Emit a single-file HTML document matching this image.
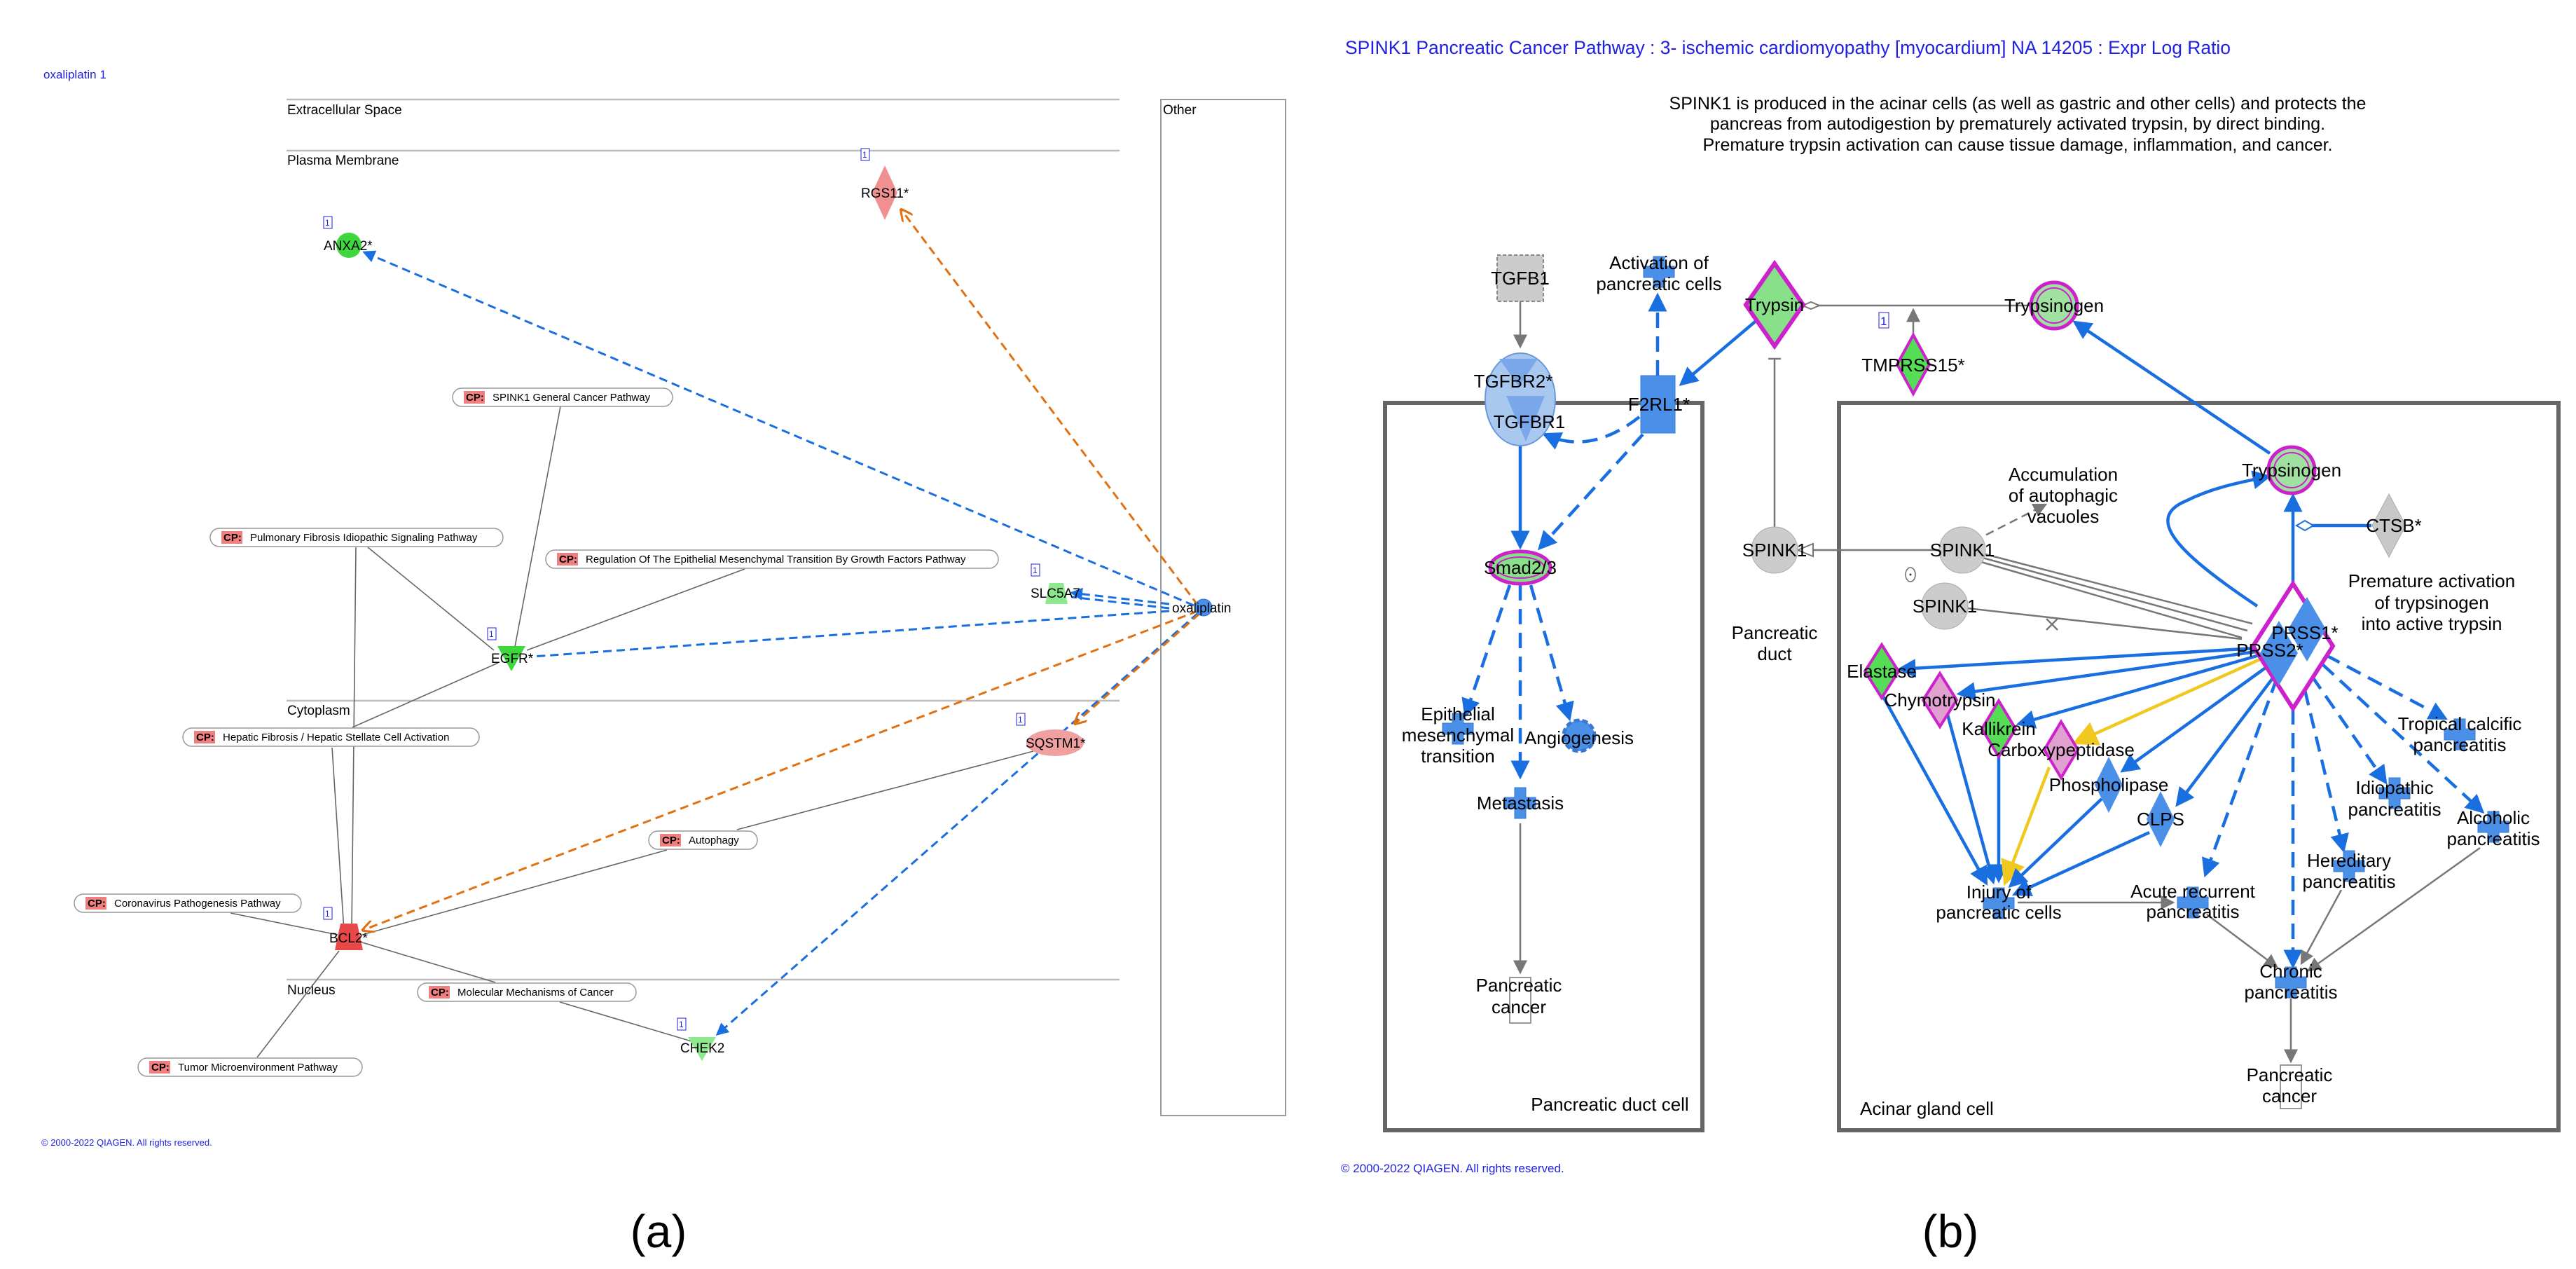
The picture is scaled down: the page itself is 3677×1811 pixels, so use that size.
<!DOCTYPE html>
<html><head><meta charset="utf-8"><style>
html,body{margin:0;padding:0;background:#fff;width:3677px;height:1811px;overflow:hidden}
svg{display:block}
text{font-family:"Liberation Sans",Arial,sans-serif}
.l{font-size:26px;fill:#000}
.s{font-size:15px;fill:#000}
.g{stroke:#777;stroke-width:2.5;fill:none}
.gs{stroke:#666;stroke-width:1.6;fill:none}
.b{stroke:#1a6fe0;stroke-width:4.5;fill:none}
.bd{stroke:#1a6fe0;stroke-width:4.5;fill:none;stroke-dasharray:22 12}
.bd2{stroke:#1a6fe0;stroke-width:3;fill:none;stroke-dasharray:12 7}
.od{stroke:#e07010;stroke-width:3;fill:none;stroke-dasharray:12 7}
.y{stroke:#f0c820;stroke-width:4.5;fill:none}
</style></head><body>
<svg width="3677" height="1811" viewBox="0 0 3677 1811" xmlns="http://www.w3.org/2000/svg">
<defs>
<marker id="ab" markerWidth="8" markerHeight="8" refX="7" refY="4" orient="auto" markerUnits="strokeWidth"><path d="M0,0 L8,4 L0,8 z" fill="#1a6fe0"/></marker>
<marker id="ab2" markerWidth="6" markerHeight="6" refX="5" refY="3" orient="auto" markerUnits="strokeWidth"><path d="M0,0 L6,3 L0,6 z" fill="#1a6fe0"/></marker>
<marker id="ay" markerWidth="8" markerHeight="8" refX="7" refY="4" orient="auto" markerUnits="strokeWidth"><path d="M0,0 L8,4 L0,8 z" fill="#f0c820"/></marker>
<marker id="ag" markerWidth="8" markerHeight="8" refX="7" refY="4" orient="auto" markerUnits="strokeWidth"><path d="M0,0 L8,4 L0,8 z" fill="#777"/></marker>
<marker id="ao" markerWidth="6" markerHeight="6" refX="5" refY="3" orient="auto" markerUnits="strokeWidth"><path d="M0,0 L6,3 L0,6" fill="none" stroke="#e07010"/></marker>
<g id="cross"><path d="M-8,-22 H8 V-8 H22 V8 H8 V22 H-8 V8 H-22 V-8 H-8 Z" fill="#4a8fe8" stroke="#3a78d0" stroke-width="1"/></g>
</defs>

<!-- ===== PANEL A ===== -->
<text x="62" y="112" font-size="17" fill="#2020e0">oxaliplatin 1</text>
<g stroke="#bbb" stroke-width="2.5">
<line x1="409" y1="142" x2="1598" y2="142"/>
<line x1="409" y1="215" x2="1598" y2="215"/>
<line x1="409" y1="1000" x2="1598" y2="1000"/>
<line x1="409" y1="1398" x2="1598" y2="1398"/>
</g>
<rect x="1657" y="142" width="178" height="1450" fill="none" stroke="#999" stroke-width="2"/>
<text x="1660" y="163" font-size="19">Other</text>
<text x="410" y="163" font-size="19">Extracellular Space</text>
<text x="410" y="235" font-size="19">Plasma Membrane</text>
<text x="410" y="1020" font-size="19">Cytoplasm</text>
<text x="410" y="1419" font-size="19">Nucleus</text>
<text x="59" y="1635" font-size="13" fill="#2020e0">© 2000-2022 QIAGEN. All rights reserved.</text>

<g class="gs">
<line x1="800" y1="580" x2="734" y2="928"/>
<line x1="525" y1="781" x2="705" y2="928"/>
<line x1="508" y1="781" x2="502" y2="1328"/>
<line x1="1063" y1="812" x2="752" y2="928"/>
<line x1="503" y1="1038" x2="711" y2="946"/>
<line x1="474" y1="1067" x2="491" y2="1328"/>
<line x1="1052" y1="1184" x2="1475" y2="1072"/>
<line x1="952" y1="1213" x2="517" y2="1334"/>
<line x1="329" y1="1303" x2="482" y2="1334"/>
<line x1="707" y1="1402" x2="517" y2="1345"/>
<line x1="799" y1="1430" x2="987" y2="1486"/>
<line x1="367" y1="1509" x2="484" y2="1357"/>
</g>
<line x1="1704" y1="864" x2="520" y2="360" class="bd2" marker-end="url(#ab2)"/>
<line x1="1669" y1="862" x2="1530" y2="846" class="bd2" marker-end="url(#ab2)"/>
<line x1="1669" y1="868" x2="1530" y2="852" class="bd2"/>
<line x1="1669" y1="872" x2="760" y2="937" class="bd2"/>
<line x1="1710" y1="875" x2="1024" y2="1476" class="bd2" marker-end="url(#ab2)"/>
<line x1="1710" y1="864" x2="1287" y2="300" class="od" marker-end="url(#ao)"/>
<line x1="1710" y1="872" x2="519" y2="1327" class="od" marker-end="url(#ao)"/>
<line x1="1712" y1="876" x2="1535" y2="1032" class="od" marker-end="url(#ao)"/>

<g font-size="15">
<g><rect x="646" y="554" width="314" height="26" rx="13" fill="#fff" stroke="#999" stroke-width="1.5"/><rect x="662" y="558" width="30" height="18" fill="#f08080"/><text x="665" y="572" font-weight="bold">CP:</text><text x="703" y="572">SPINK1 General Cancer Pathway</text></g>
<g><rect x="300" y="754" width="418" height="26" rx="13" fill="#fff" stroke="#999" stroke-width="1.5"/><rect x="316" y="758" width="30" height="18" fill="#f08080"/><text x="319" y="772" font-weight="bold">CP:</text><text x="357" y="772">Pulmonary Fibrosis Idiopathic Signaling Pathway</text></g>
<g><rect x="779" y="785" width="646" height="26" rx="13" fill="#fff" stroke="#999" stroke-width="1.5"/><rect x="795" y="789" width="30" height="18" fill="#f08080"/><text x="798" y="803" font-weight="bold">CP:</text><text x="836" y="803">Regulation Of The Epithelial Mesenchymal Transition By Growth Factors Pathway</text></g>
<g><rect x="261" y="1039" width="423" height="26" rx="13" fill="#fff" stroke="#999" stroke-width="1.5"/><rect x="277" y="1043" width="30" height="18" fill="#f08080"/><text x="280" y="1057" font-weight="bold">CP:</text><text x="318" y="1057">Hepatic Fibrosis / Hepatic Stellate Cell Activation</text></g>
<g><rect x="926" y="1186" width="155" height="26" rx="13" fill="#fff" stroke="#999" stroke-width="1.5"/><rect x="942" y="1190" width="30" height="18" fill="#f08080"/><text x="945" y="1204" font-weight="bold">CP:</text><text x="983" y="1204">Autophagy</text></g>
<g><rect x="106" y="1276" width="324" height="26" rx="13" fill="#fff" stroke="#999" stroke-width="1.5"/><rect x="122" y="1280" width="30" height="18" fill="#f08080"/><text x="125" y="1294" font-weight="bold">CP:</text><text x="163" y="1294">Coronavirus Pathogenesis Pathway</text></g>
<g><rect x="596" y="1403" width="312" height="26" rx="13" fill="#fff" stroke="#999" stroke-width="1.5"/><rect x="612" y="1407" width="30" height="18" fill="#f08080"/><text x="615" y="1421" font-weight="bold">CP:</text><text x="653" y="1421">Molecular Mechanisms of Cancer</text></g>
<g><rect x="197" y="1510" width="320" height="26" rx="13" fill="#fff" stroke="#999" stroke-width="1.5"/><rect x="213" y="1514" width="30" height="18" fill="#f08080"/><text x="216" y="1528" font-weight="bold">CP:</text><text x="254" y="1528">Tumor Microenvironment Pathway</text></g>
</g>

<g font-size="12" fill="#2020e0">
<rect x="462" y="309" width="12" height="17" fill="#fff" stroke="#2020e0"/><text x="464" y="322">1</text>
<rect x="1229" y="212" width="12" height="17" fill="#fff" stroke="#2020e0"/><text x="1231" y="225">1</text>
<rect x="1472" y="805" width="12" height="17" fill="#fff" stroke="#2020e0"/><text x="1474" y="818">1</text>
<rect x="696" y="896" width="12" height="17" fill="#fff" stroke="#2020e0"/><text x="698" y="909">1</text>
<rect x="1451" y="1018" width="12" height="17" fill="#fff" stroke="#2020e0"/><text x="1453" y="1031">1</text>
<rect x="462" y="1295" width="12" height="17" fill="#fff" stroke="#2020e0"/><text x="464" y="1308">1</text>
<rect x="967" y="1453" width="12" height="17" fill="#fff" stroke="#2020e0"/><text x="969" y="1466">1</text>
</g>
<circle cx="498" cy="350" r="18" fill="#3ed83e"/>
<polygon points="1263,236 1281,275 1263,314 1245,275" fill="#f09090"/>
<polygon points="1498,832 1518,832 1524,862 1492,862" fill="#8ee88e"/>
<circle cx="1718" cy="867" r="12" fill="#4a8fe8" stroke="#2a6fd0"/>
<polygon points="710,922 750,922 730,958" fill="#3ed83e"/>
<ellipse cx="1506" cy="1060" rx="41" ry="19" fill="#f0a0a0"/>
<polygon points="486,1318 510,1318 518,1356 478,1356" fill="#e84848"/>
<polygon points="982,1480 1022,1480 1002,1514" fill="#8ee88e"/>
<g font-size="19">
<text x="462" y="357">ANXA2*</text>
<text x="1229" y="282">RGS11*</text>
<text x="1471" y="853">SLC5A7</text>
<text x="1673" y="874">oxaliplatin</text>
<text x="701" y="946">EGFR*</text>
<text x="1464" y="1067">SQSTM1*</text>
<text x="470" y="1345">BCL2*</text>
<text x="971" y="1502">CHEK2</text>
</g>
<text x="940" y="1780" font-family="Liberation Serif" font-size="66" text-anchor="middle">(a)</text>

<!-- ===== PANEL B ===== -->
<text x="1920" y="77" font-size="26.5" fill="#2020e0" textLength="1264" lengthAdjust="spacingAndGlyphs">SPINK1 Pancreatic Cancer Pathway : 3- ischemic cardiomyopathy [myocardium] NA 14205 : Expr Log Ratio</text>
<g font-size="25" text-anchor="middle">
<text x="2880" y="156">SPINK1 is produced in the acinar cells (as well as gastric and other cells) and protects the</text>
<text x="2880" y="185">pancreas from autodigestion by prematurely activated trypsin, by direct binding.</text>
<text x="2880" y="215">Premature trypsin activation can cause tissue damage, inflammation, and cancer.</text>
</g>
<rect x="1977" y="575" width="453" height="1038" fill="none" stroke="#666" stroke-width="6"/>
<rect x="2625" y="575" width="1027" height="1038" fill="none" stroke="#666" stroke-width="6"/>
<text x="2298" y="1585" class="l" text-anchor="middle">Pancreatic duct cell</text>
<text x="2655" y="1591" class="l">Acinar gland cell</text>
<text x="1914" y="1673" font-size="17" fill="#2020e0">© 2000-2022 QIAGEN. All rights reserved.</text>
<text x="2784" y="1780" font-family="Liberation Serif" font-size="66" text-anchor="middle">(b)</text>

<line x1="2170" y1="430" x2="2170" y2="495" class="g" marker-end="url(#ag)"/>
<line x1="2366" y1="536" x2="2366" y2="422" class="bd" marker-end="url(#ab2)"/>
<line x1="2510" y1="455" x2="2400" y2="548" class="b" marker-end="url(#ab2)"/>
<path d="M2340,595 Q2270,650 2205,620" class="bd" marker-end="url(#ab2)"/>
<line x1="2345" y1="620" x2="2198" y2="782" class="bd" marker-end="url(#ab2)"/>
<line x1="2170" y1="636" x2="2170" y2="780" class="b" marker-end="url(#ab2)"/>
<line x1="2155" y1="835" x2="2092" y2="1020" class="bd" marker-end="url(#ab2)"/>
<line x1="2170" y1="835" x2="2170" y2="1108" class="bd" marker-end="url(#ab2)"/>
<line x1="2185" y1="835" x2="2240" y2="1025" class="bd" marker-end="url(#ab2)"/>
<line x1="2170" y1="1175" x2="2170" y2="1388" class="g" marker-end="url(#ag)"/>
<line x1="2575" y1="436" x2="2897" y2="436" class="g"/>
<polygon points="2573,436 2585,431 2597,436 2585,441" fill="#fff" stroke="#777" stroke-width="2"/>
<line x1="2731" y1="478" x2="2731" y2="442" class="g" marker-end="url(#ag)"/>
<line x1="2533" y1="512" x2="2533" y2="752" class="g"/>
<line x1="2524" y1="512" x2="2542" y2="512" class="g"/>
<line x1="2768" y1="785" x2="2568" y2="785" class="g"/>
<polygon points="2566,785 2588,776 2588,794" fill="#fff" stroke="#777" stroke-width="2"/>
<line x1="2818" y1="772" x2="2920" y2="720" class="g" stroke-dasharray="12 7" marker-end="url(#ag)"/>
<g class="g">
<line x1="2830" y1="790" x2="3215" y2="890"/>
<line x1="2830" y1="796" x2="3208" y2="900"/>
<line x1="2828" y1="802" x2="3200" y2="910"/>
<line x1="2808" y1="868" x2="3200" y2="912"/>
<line x1="2921" y1="883" x2="2937" y2="899"/><line x1="2937" y1="883" x2="2921" y2="899"/>
</g>
<ellipse cx="2727" cy="820" rx="7" ry="10" fill="#fff" stroke="#666" stroke-width="1.5"/>
<circle cx="2727" cy="820" r="1.5" fill="#333"/>
<line x1="3240" y1="647" x2="2962" y2="460" class="b" marker-end="url(#ab2)"/>
<line x1="3273" y1="835" x2="3273" y2="708" class="b" marker-end="url(#ab2)"/>
<path d="M3222,865 C3110,790 3060,740 3120,715 C3160,695 3200,688 3238,680" class="b" marker-end="url(#ab2)"/>
<line x1="3385" y1="750" x2="3300" y2="750" class="b"/>
<polygon points="3278,750 3290,743 3302,750 3290,757" fill="#fff" stroke="#1a6fe0" stroke-width="2"/>
<line x1="3220" y1="925" x2="2712" y2="955" class="b" marker-end="url(#ab2)"/>
<line x1="3220" y1="930" x2="2797" y2="990" class="b" marker-end="url(#ab2)"/>
<line x1="3225" y1="935" x2="2882" y2="1033" class="b" marker-end="url(#ab2)"/>
<line x1="3228" y1="940" x2="2962" y2="1060" class="y" marker-end="url(#ay)"/>
<line x1="3238" y1="950" x2="3030" y2="1100" class="b" marker-end="url(#ab2)"/>
<line x1="3250" y1="960" x2="3108" y2="1148" class="b" marker-end="url(#ab2)"/>
<line x1="3250" y1="968" x2="3148" y2="1248" class="bd" marker-end="url(#ab2)"/>
<line x1="3273" y1="1012" x2="3273" y2="1378" class="bd" marker-end="url(#ab2)"/>
<line x1="3290" y1="985" x2="3345" y2="1213" class="bd" marker-end="url(#ab2)"/>
<line x1="3300" y1="965" x2="3405" y2="1116" class="bd" marker-end="url(#ab2)"/>
<line x1="3315" y1="948" x2="3543" y2="1158" class="bd" marker-end="url(#ab2)"/>
<line x1="3320" y1="935" x2="3490" y2="1025" class="bd" marker-end="url(#ab2)"/>
<line x1="2683" y1="985" x2="2835" y2="1260" class="b" marker-end="url(#ab2)"/>
<line x1="2780" y1="1020" x2="2845" y2="1258" class="b" marker-end="url(#ab2)"/>
<line x1="2853" y1="1062" x2="2853" y2="1256" class="b" marker-end="url(#ab2)"/>
<line x1="2925" y1="1095" x2="2862" y2="1260" class="y" marker-end="url(#ay)"/>
<line x1="3000" y1="1140" x2="2870" y2="1264" class="b" marker-end="url(#ab2)"/>
<line x1="3068" y1="1188" x2="2876" y2="1276" class="b" marker-end="url(#ab2)"/>
<line x1="2880" y1="1288" x2="3102" y2="1288" class="g" marker-end="url(#ag)"/>
<line x1="3150" y1="1305" x2="3250" y2="1380" class="g" marker-end="url(#ag)"/>
<line x1="3342" y1="1270" x2="3285" y2="1375" class="g" marker-end="url(#ag)"/>
<line x1="3540" y1="1210" x2="3295" y2="1385" class="g" marker-end="url(#ag)"/>
<line x1="3270" y1="1425" x2="3270" y2="1515" class="g" marker-end="url(#ag)"/>

<rect x="2137" y="364" width="66" height="66" fill="#ccc" stroke="#888" stroke-dasharray="5 3" stroke-width="2"/>
<use href="#cross" x="2368" y="388"/>
<polygon points="2533,376 2574,435 2533,494 2492,435" fill="#88e088" stroke="#cc22cc" stroke-width="6"/>
<circle cx="2932" cy="436" r="33" fill="#a0e0a0" stroke="#cc22cc" stroke-width="5"/>
<circle cx="2932" cy="436" r="25" fill="none" stroke="#cc22cc" stroke-width="2"/>
<rect x="2682" y="446" width="14" height="22" fill="#fff" stroke="#2020e0"/><text x="2684" y="464" font-size="17" fill="#2020e0">1</text>
<polygon points="2731,478 2754,520 2731,562 2708,520" fill="#55dd55" stroke="#cc22cc" stroke-width="4"/>
<ellipse cx="2170" cy="570" rx="50" ry="66" fill="#a8c8f0" stroke="#6a98d8" stroke-width="2"/>
<polygon points="2140,512 2195,512 2168,552" fill="#7aa8ea"/>
<polygon points="2150,565 2205,565 2178,630" fill="#7aa8ea"/>
<rect x="2342" y="536" width="49" height="82" fill="#4a8fe8" stroke="#3a78d0"/>
<ellipse cx="2170" cy="810" rx="43" ry="23" fill="#88e088" stroke="#cc22cc" stroke-width="5"/>
<ellipse cx="2170" cy="810" rx="34" ry="15" fill="none" stroke="#cc22cc" stroke-width="2"/>
<use href="#cross" x="2081" y="1040"/>
<circle cx="2254" cy="1050" r="22" fill="#4a8fe8" stroke="#3a78d0" stroke-dasharray="8 4" stroke-width="5"/>
<use href="#cross" x="2170" y="1146"/>
<rect x="2155" y="1395" width="30" height="65" fill="#fff" stroke="#777" stroke-width="1.5"/>
<circle cx="2533" cy="785" r="33" fill="#ccc" stroke="#aaa"/>
<circle cx="2801" cy="785" r="33" fill="#ccc" stroke="#aaa"/>
<circle cx="2776" cy="865" r="33" fill="#ccc" stroke="#aaa"/>
<circle cx="3271" cy="671" r="33" fill="#a0e0a0" stroke="#cc22cc" stroke-width="5"/>
<circle cx="3271" cy="671" r="25" fill="none" stroke="#cc22cc" stroke-width="2"/>
<polygon points="3410,705 3434,750 3410,795 3386,750" fill="#c8c8c8" stroke="#aaa"/>
<polygon points="3273,833 3330,922 3273,1011 3216,922" fill="#fff" stroke="#cc22cc" stroke-width="6"/>
<polygon points="3293,852 3320,898 3293,944 3266,898" fill="#4a8fe8"/>
<polygon points="3253,886 3280,932 3253,978 3226,932" fill="#4a8fe8"/>
<polygon points="2686,920 2710,958 2686,996 2662,958" fill="#55dd55" stroke="#cc22cc" stroke-width="4"/>
<polygon points="2769,961 2793,999 2769,1037 2745,999" fill="#e0a0d0" stroke="#cc22cc" stroke-width="4"/>
<polygon points="2853,1000 2877,1040 2853,1080 2829,1040" fill="#55dd55" stroke="#cc22cc" stroke-width="4"/>
<polygon points="2942,1030 2966,1070 2942,1110 2918,1070" fill="#e0a0d0" stroke="#cc22cc" stroke-width="4"/>
<polygon points="3010,1080 3030,1120 3010,1160 2990,1120" fill="#4a8fe8"/>
<polygon points="3084,1129 3104,1169 3084,1209 3064,1169" fill="#4a8fe8"/>
<use href="#cross" x="2853" y="1289"/>
<use href="#cross" x="3130" y="1288"/>
<use href="#cross" x="3511" y="1048"/>
<use href="#cross" x="3418" y="1132"/>
<use href="#cross" x="3559" y="1180"/>
<use href="#cross" x="3353" y="1236"/>
<use href="#cross" x="3270" y="1402"/>
<rect x="3255" y="1520" width="30" height="62" fill="#fff" stroke="#777" stroke-width="1.5"/>

<g class="l" text-anchor="middle">
<text x="2170" y="406">TGFB1</text>
<text x="2368" y="384">Activation of</text><text x="2368" y="414">pancreatic cells</text>
<text x="2533" y="444">Trypsin</text>
<text x="2932" y="445">Trypsinogen</text>
<text x="2731" y="530">TMPRSS15*</text>
<text x="2160" y="553">TGFBR2*</text>
<text x="2183" y="611">TGFBR1</text>
<text x="2368" y="586">F2RL1*</text>
<text x="2170" y="819">Smad2/3</text>
<text x="2081" y="1028">Epithelial</text><text x="2081" y="1058">mesenchymal</text><text x="2081" y="1088">transition</text>
<text x="2254" y="1062">Angiogenesis</text>
<text x="2170" y="1155">Metastasis</text>
<text x="2168" y="1415">Pancreatic</text><text x="2168" y="1446">cancer</text>
<text x="2533" y="794">SPINK1</text>
<text x="2533" y="912">Pancreatic</text><text x="2533" y="942">duct</text>
<text x="2801" y="794">SPINK1</text>
<text x="2776" y="874">SPINK1</text>
<text x="2945" y="686">Accumulation</text><text x="2945" y="716">of autophagic</text><text x="2945" y="746">vacuoles</text>
<text x="3271" y="680">Trypsinogen</text>
<text x="3417" y="759">CTSB*</text>
<text x="3471" y="838">Premature activation</text><text x="3471" y="869">of trypsinogen</text><text x="3471" y="899">into active trypsin</text>
<text x="3290" y="912">PRSS1*</text>
<text x="3240" y="937">PRSS2*</text>
<text x="2686" y="967">Elastase</text>
<text x="2769" y="1008">Chymotrypsin</text>
<text x="2853" y="1049">Kallikrein</text>
<text x="2942" y="1079">Carboxypeptidase</text>
<text x="3010" y="1129">Phospholipase</text>
<text x="3084" y="1178">CLPS</text>
<text x="2853" y="1282">Injury of</text><text x="2853" y="1311">pancreatic cells</text>
<text x="3130" y="1281">Acute recurrent</text><text x="3130" y="1310">pancreatitis</text>
<text x="3511" y="1042">Tropical calcific</text><text x="3511" y="1072">pancreatitis</text>
<text x="3418" y="1133">Idiopathic</text><text x="3418" y="1164">pancreatitis</text>
<text x="3559" y="1176">Alcoholic</text><text x="3559" y="1206">pancreatitis</text>
<text x="3353" y="1237">Hereditary</text><text x="3353" y="1267">pancreatitis</text>
<text x="3270" y="1395">Chronic</text><text x="3270" y="1425">pancreatitis</text>
<text x="3268" y="1543">Pancreatic</text><text x="3268" y="1573">cancer</text>
</g>
</svg>
</body></html>
